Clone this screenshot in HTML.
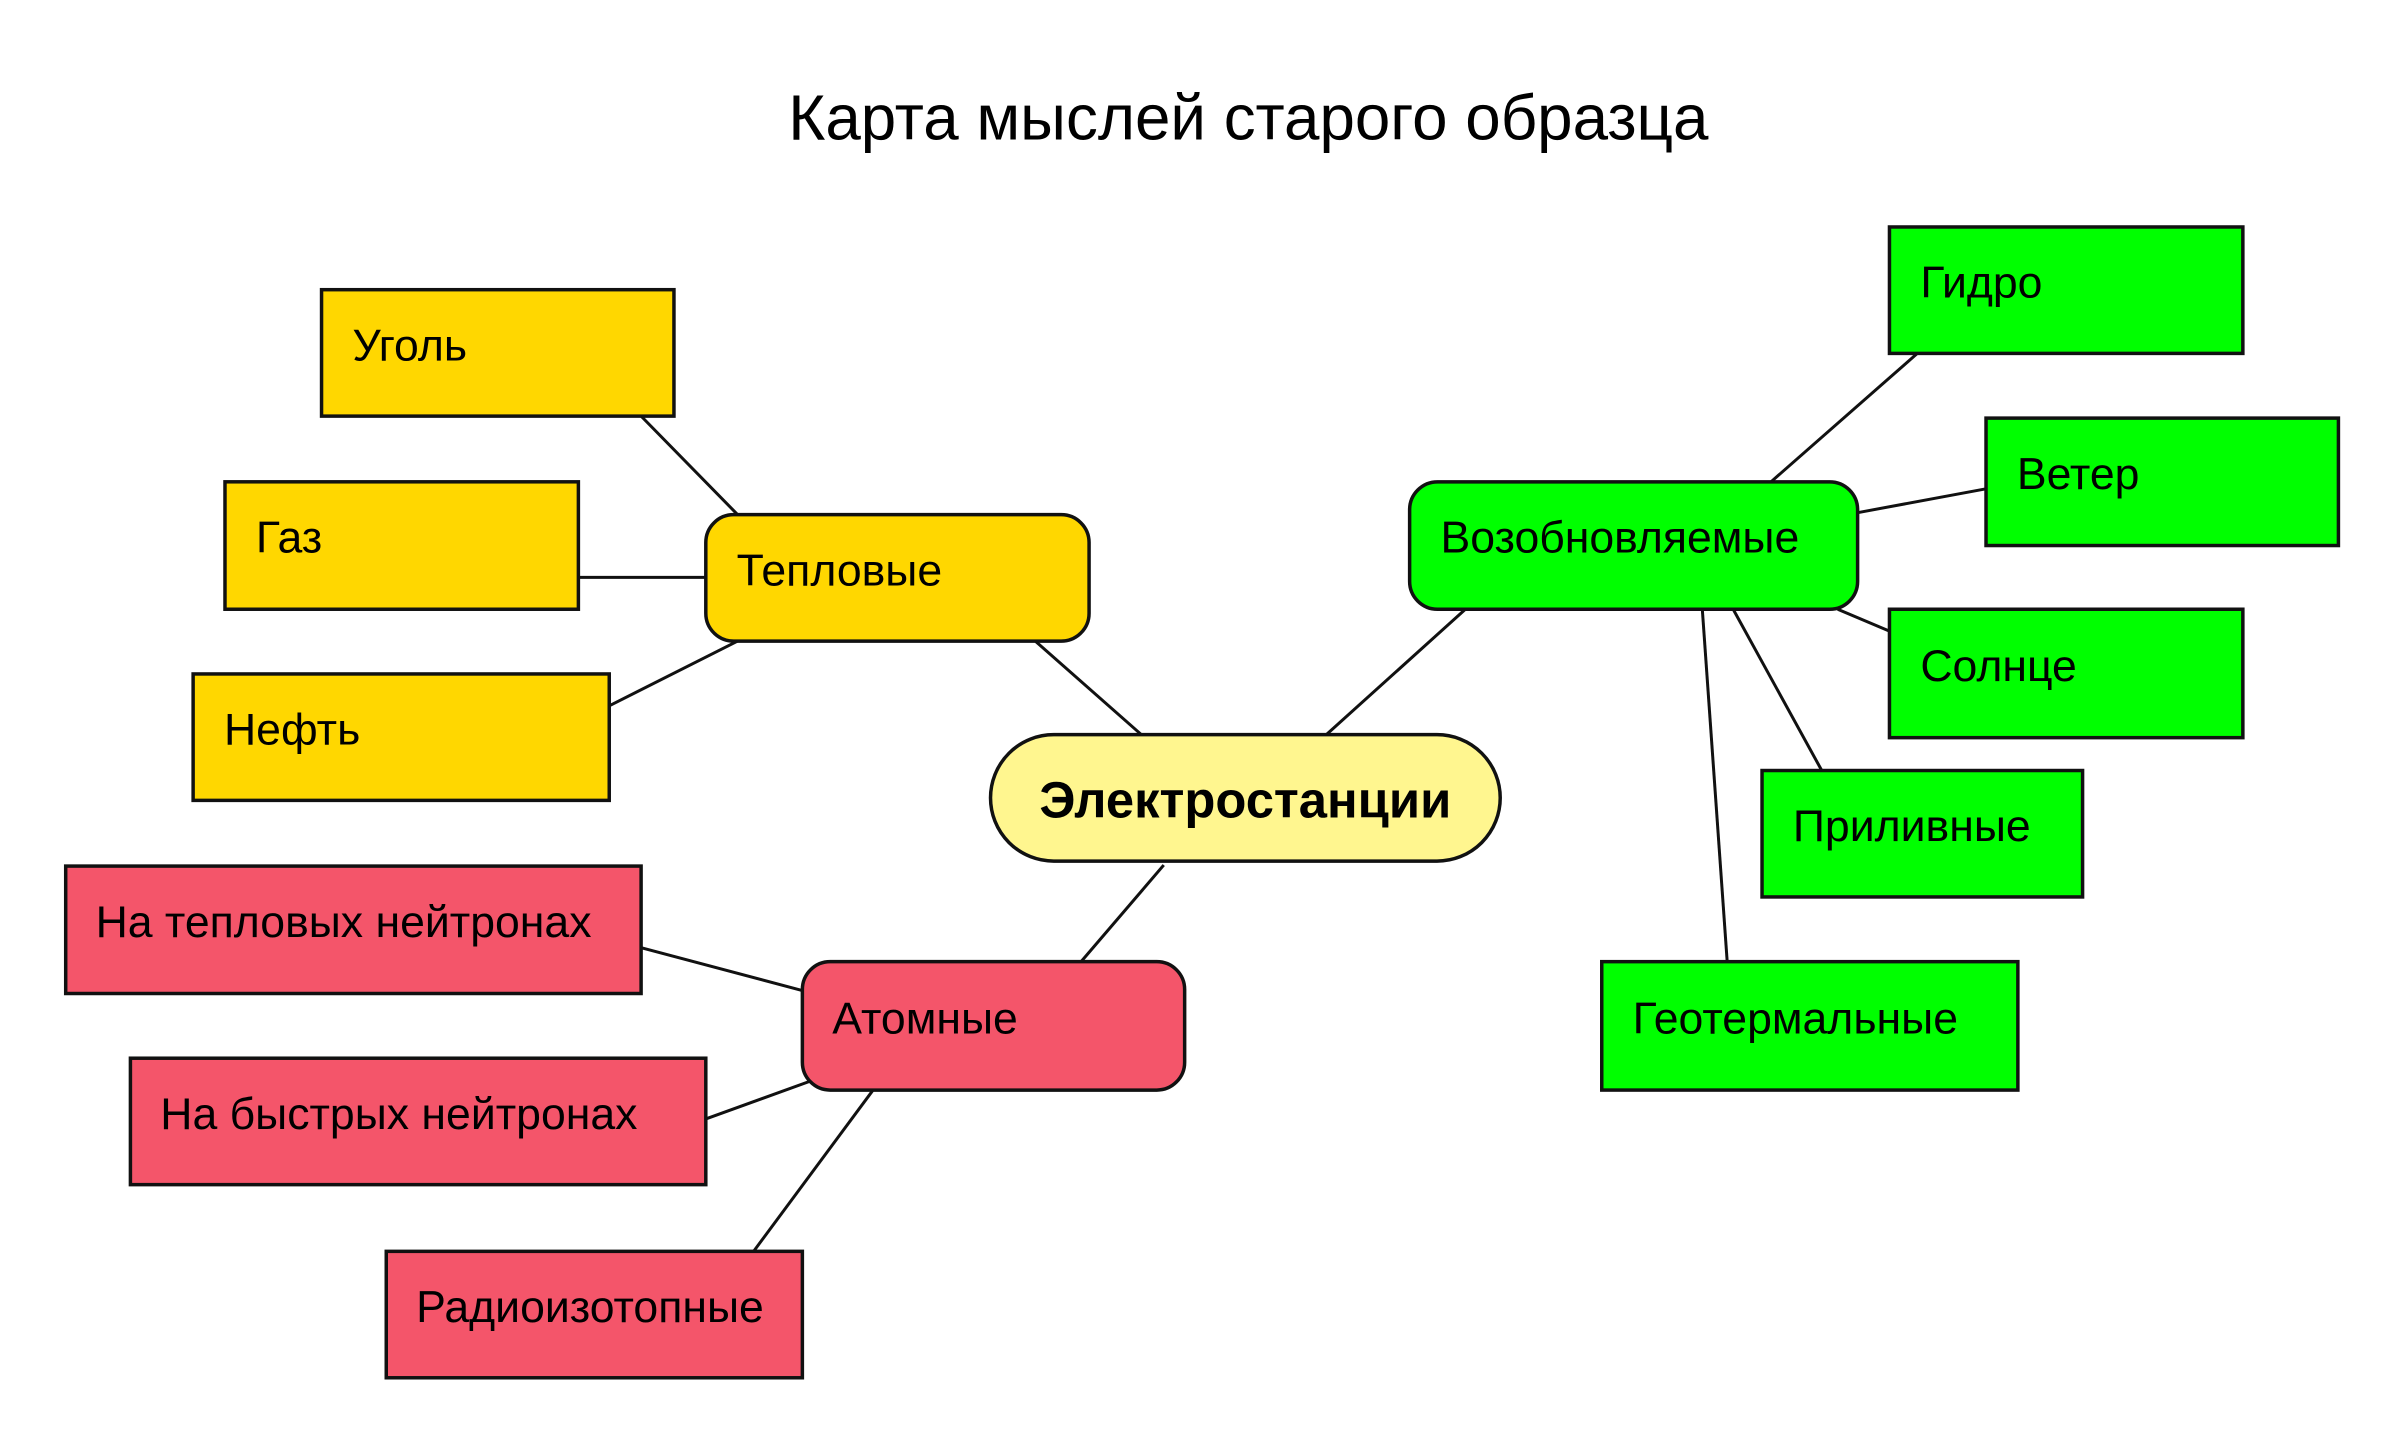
<!DOCTYPE html>
<html><head><meta charset="utf-8"><style>
html,body{margin:0;padding:0;background:#fff;}
svg{display:block;}
text{font-family:"Liberation Sans",sans-serif;fill:#000;}
</style></head><body>
<svg width="2400" height="1440" viewBox="0 0 2400 1440" xmlns="http://www.w3.org/2000/svg">
<g transform="scale(0.9955)">
<text x="1254" y="140" font-size="64" text-anchor="middle">Карта мыслей старого образца</text>
<g stroke="#111" stroke-width="3">
<line x1="644" y1="418" x2="741" y2="517"/>
<line x1="581" y1="580" x2="709" y2="580"/>
<line x1="612" y1="709" x2="741" y2="644"/>
<line x1="1040" y1="644" x2="1150" y2="741"/>
<line x1="1169" y1="869" x2="1086" y2="966"/>
<line x1="644" y1="952" x2="806" y2="995"/>
<line x1="709" y1="1124" x2="814" y2="1086"/>
<line x1="757" y1="1257" x2="877" y2="1095"/>
<line x1="1329" y1="741" x2="1472" y2="612"/>
<line x1="1779" y1="484" x2="1926" y2="355"/>
<line x1="1866" y1="515" x2="1995" y2="491"/>
<line x1="1846" y1="612" x2="1898" y2="634"/>
<line x1="1741" y1="612" x2="1830" y2="774"/>
<line x1="1710" y1="612" x2="1735" y2="966"/>
</g>
<g stroke="#111" stroke-width="3.5">
<rect x="323" y="291" width="354" height="127" fill="#FFD700"/>
<rect x="226" y="484" width="355" height="128" fill="#FFD700"/>
<rect x="194" y="677" width="418" height="127" fill="#FFD700"/>
<rect x="709" y="517" width="385" height="127" rx="28" fill="#FFD700"/>
<rect x="995" y="738" width="512" height="127" rx="63.5" fill="#FFF68F"/>
<rect x="806" y="966" width="384" height="129" rx="28" fill="#F4556A"/>
<rect x="66" y="870" width="578" height="128" fill="#F4556A"/>
<rect x="131" y="1063" width="578" height="127" fill="#F4556A"/>
<rect x="388" y="1257" width="418" height="127" fill="#F4556A"/>
<rect x="1416" y="484" width="450" height="128" rx="28" fill="#00FF00"/>
<rect x="1898" y="228" width="355" height="127" fill="#00FF00"/>
<rect x="1995" y="420" width="354" height="128" fill="#00FF00"/>
<rect x="1898" y="612" width="355" height="129" fill="#00FF00"/>
<rect x="1770" y="774" width="322" height="127" fill="#00FF00"/>
<rect x="1609" y="966" width="418" height="129" fill="#00FF00"/>
</g>
<g font-size="44.8">
<text x="354" y="362">Уголь</text>
<text x="257" y="555">Газ</text>
<text x="225" y="748">Нефть</text>
<text x="740" y="588">Тепловые</text>
<text x="836" y="1038">Атомные</text>
<text x="96" y="941">На тепловых нейтронах</text>
<text x="161" y="1134">На быстрых нейтронах</text>
<text x="418" y="1328">Радиоизотопные</text>
<text x="1447" y="555">Возобновляемые</text>
<text x="1929" y="299">Гидро</text>
<text x="2026" y="491">Ветер</text>
<text x="1929" y="684">Солнце</text>
<text x="1801" y="845">Приливные</text>
<text x="1640" y="1038">Геотермальные</text>
</g>
<text x="1251" y="821" font-size="51" font-weight="bold" text-anchor="middle">Электростанции</text>
</g>
</svg>
</body></html>
